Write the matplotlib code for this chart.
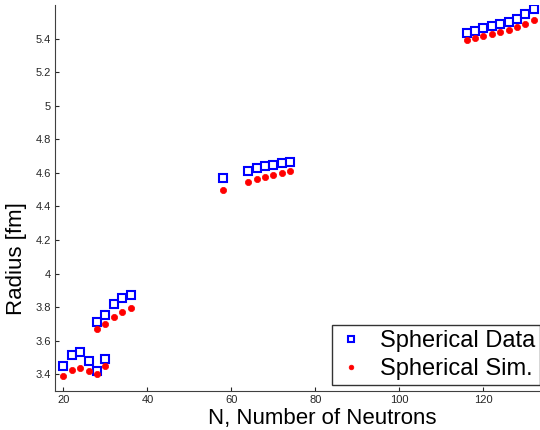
import matplotlib
matplotlib.use("Agg")
import matplotlib.pyplot as plt

plt.rcParams['font.family'] = ['Liberation Sans', 'DejaVu Sans']

# Neutron numbers
n_data = [20, 22, 24, 26, 28, 30, 28, 30, 32, 34, 36,
          58, 64, 66, 68, 70, 72, 74,
          116, 118, 120, 122, 124, 126, 128, 130, 132]
# Spherical data radii (fm)
r_data = [3.450, 3.517, 3.533, 3.481, 3.422, 3.493, 3.711, 3.751, 3.816, 3.856, 3.874,
          4.569, 4.609, 4.627, 4.639, 4.649, 4.659, 4.666,
          5.436, 5.445, 5.461, 5.475, 5.485, 5.499, 5.519, 5.544, 5.574]
# Spherical simulation radii (fm)
r_sim = [3.390, 3.428, 3.440, 3.422, 3.400, 3.446, 3.670, 3.697, 3.739, 3.773, 3.795,
         4.496, 4.544, 4.562, 4.577, 4.589, 4.601, 4.613,
         5.392, 5.402, 5.416, 5.430, 5.442, 5.451, 5.467, 5.487, 5.509]

x_ticks = [20, 40, 60, 80, 100, 120]
y_ticks = [3.4, 3.6, 3.8, 4.0, 4.2, 4.4, 4.6, 4.8, 5.0, 5.2, 5.4]
y_ticklabels = ['3.4', '3.6', '3.8', '4', '4.2', '4.4', '4.6', '4.8', '5', '5.2', '5.4']

fig = plt.figure(figsize=(5.4, 4.3), dpi=100)
ax = fig.add_axes([55/540, 39/430, 485/540, 386/430])

ax.plot(n_data, r_data, linestyle='none', marker='s', markersize=6,
        markerfacecolor='white', markeredgecolor='#0000ff', markeredgewidth=1.5,
        label='Spherical Data')
ax.plot(n_data, r_sim, linestyle='none', marker='o', markersize=4.5,
        markerfacecolor='#ff0000', markeredgecolor='#ff0000', markeredgewidth=0.5,
        label='Spherical Sim.')

ax.set_xlim(18, 133.5)
ax.set_ylim(3.3, 5.6)
ax.set_xticks(x_ticks)
ax.set_yticks(y_ticks)
ax.set_yticklabels(y_ticklabels)

for s in ['top', 'right']:
    ax.spines[s].set_visible(False)
for s in ['left', 'bottom']:
    ax.spines[s].set_color('#404040')
    ax.spines[s].set_linewidth(0.8)

ax.tick_params(direction='in', length=3, width=0.8, labelsize=8,
               colors='#262626', pad=3)

ax.set_xlabel('N, Number of Neutrons', fontsize=16, labelpad=2)
ax.set_ylabel('Radius [fm]', fontsize=16, labelpad=6)
ax.xaxis.label.set_x(0.55)
ax.yaxis.label.set_y(0.342)

leg = ax.legend(loc='lower right', bbox_to_anchor=(1.0, 0.015), borderaxespad=0,
                fontsize=17, frameon=True, fancybox=False, handlelength=1.2,
                handletextpad=0.6, borderpad=0.22, labelspacing=0.25,
                markerscale=0.75)
leg.get_frame().set_edgecolor('black')
leg.get_frame().set_linewidth(1.0)

fig.savefig('out.png', dpi=100)
